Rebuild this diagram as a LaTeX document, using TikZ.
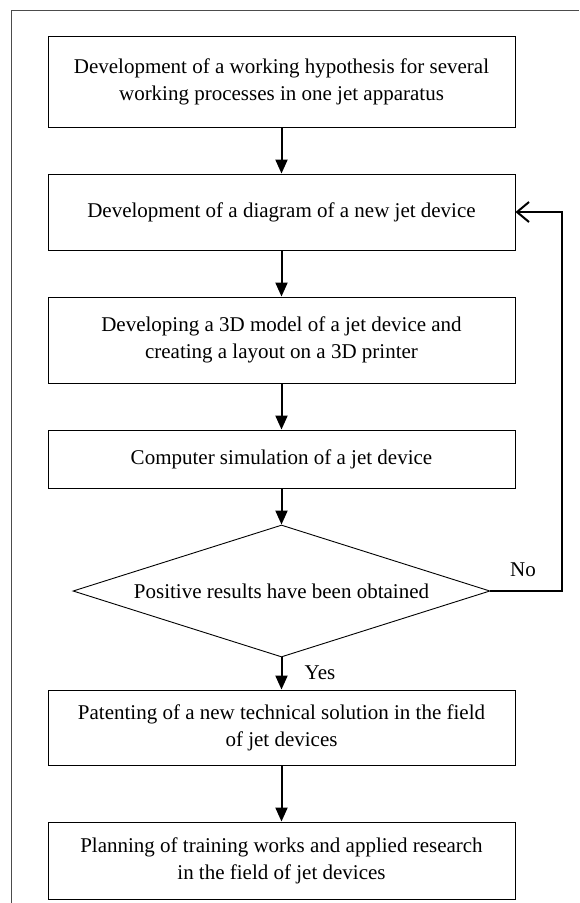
\documentclass[tikz,border=0pt]{standalone}
\usepackage{fontspec}
\setmainfont{Liberation Serif}
\usetikzlibrary{shapes.geometric,arrows.meta}
\begin{document}
\begin{tikzpicture}[x=1pt,y=-1pt,
  every node/.style={font=\fontsize{21}{27}\selectfont},
  stepbox/.style={draw, line width=0.9pt, minimum width=467pt, align=center, inner sep=0pt},
  arr/.style={line width=2pt, -{Triangle[length=14pt,width=12pt]}},
  fb/.style={line width=2pt, -{Straight Barb[length=12pt,width=20pt,line width=2pt]}}]
\useasboundingbox (0,0) rectangle (579,903);
\draw[line width=1pt, black!70] (11,903) -- (11,10) -- (579,10);
\node[stepbox, minimum height=91pt] (b1) at (281.5,81.5) {Development of a working hypothesis for several\\working processes in one jet apparatus};
\node[stepbox, minimum height=76pt] (b2) at (281.5,212) {Development of a diagram of a new jet device};
\node[stepbox, minimum height=86pt] (b3) at (281.5,340) {Developing a 3D model of a jet device and\\creating a layout on a 3D printer};
\node[stepbox, minimum height=58pt] (b4) at (281.5,459) {Computer simulation of a jet device};
\node[draw, line width=0.9pt, diamond, aspect=3.16, minimum width=417pt, minimum height=132pt, inner sep=0pt] (d) at (281.5,591) {Positive results have been obtained};
\node[stepbox, minimum height=75pt] (b5) at (281.5,727.5) {Patenting of a new technical solution in the field\\of jet devices};
\node[stepbox, minimum height=77pt] (b6) at (281.5,860.5) {Planning of training works and applied research\\in the field of jet devices};
\draw[arr] (b1) -- (b2);
\draw[arr] (b2) -- (b3);
\draw[arr] (b3) -- (b4);
\draw[arr] (b4) -- (d);
\draw[arr] (d) -- (b5);
\draw[arr] (b5) -- (b6);
\coordinate (c) at (562,591);
\draw[fb] (d.east) -- (c) |- (b2.east);
\node (no) at (523,570) {No};
\node (yes) at (320,673) {Yes};
\end{tikzpicture}
\end{document}
